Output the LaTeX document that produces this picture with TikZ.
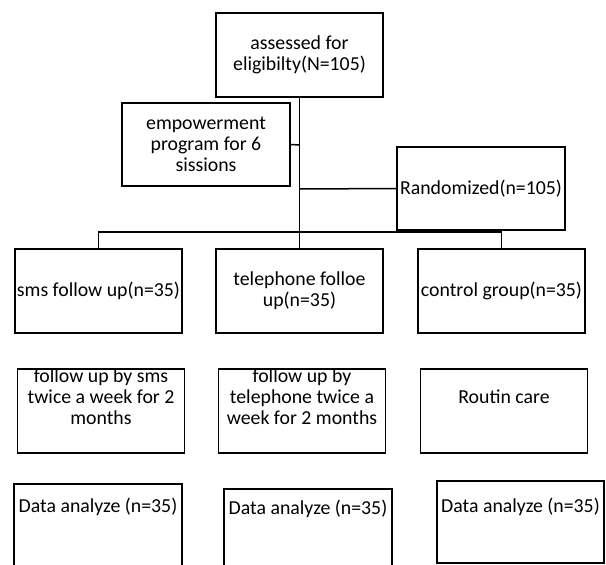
\documentclass[tikz,border=0pt]{standalone}
\usepackage{fontspec}
\setmainfont{Carlito}
\usepackage{tikz}
\usetikzlibrary{positioning}

\tikzset{
  box/.style={draw, line width=1.5pt, minimum width=167pt, minimum height=84pt, inner sep=0pt},
  txt/.style={align=center, font=\fontsize{19.8}{21}\selectfont, inner sep=0pt},
  link/.style={line width=1.5pt}
}

\begin{document}
\begin{tikzpicture}[x=1pt,y=-1pt]
    \useasboundingbox (0,0) rectangle (606,565);
    \node[box,txt] (top) at (299.5,55) {assessed for\\eligibilty(N=105)};
    \node[box,txt,minimum width=168pt,minimum height=83pt] (emp) at (206,144.5) {empowerment\\program for 6\\sissions};
    \node[box,txt,minimum width=168pt,minimum height=83pt] (rand) at (481,188.5) {Randomized(n=105)};
    \node[box,txt] (sms) at (98.5,291) {sms follow up(n=35)};
    \node[box,txt] (tel) at (299.5,291) {telephone folloe\\up(n=35)};
    \node[box,txt] (ctl) at (501.5,291) {control group(n=35)};
    \node[box] (sms2) at (101,411) {};
    \node[box] (tel2) at (302,411) {};
    \node[box] (rout) at (504,411) {};
    \node[txt] (sms2txt) at (101,397) {follow up by sms\\twice a week for 2\\months};
    \node[txt] (tel2txt) at (302,397) {follow up by\\telephone twice a\\week for 2 months};
    \node[txt] (routtxt) at (504,397) {Routin care};
    \node[box,minimum width=168pt] (dat1) at (98,526) {};
    \node[box,minimum width=168pt] (dat2) at (308,531) {};
    \node[box,minimum height=82pt] (dat3) at (520.5,522) {};
    \node[txt] (dat1txt) at (98,507) {Data analyze (n=35)};
    \node[txt] (dat2txt) at (308,509) {Data analyze (n=35)};
    \node[txt] (dat3txt) at (520.5,507) {Data analyze (n=35)};
    \coordinate (j1) at (299.5,145);
    \coordinate (j2) at (299.5,189);
    \coordinate (j3) at (299.5,232);
    \draw[link] (top.south) -- (tel.north);
    \draw[link] (j1) -- (emp.east);
    \draw[link] (j2) -- (rand.west);
    \draw[link] (sms.north) |- (j3) -| (ctl.north);
\end{tikzpicture}
\end{document}
